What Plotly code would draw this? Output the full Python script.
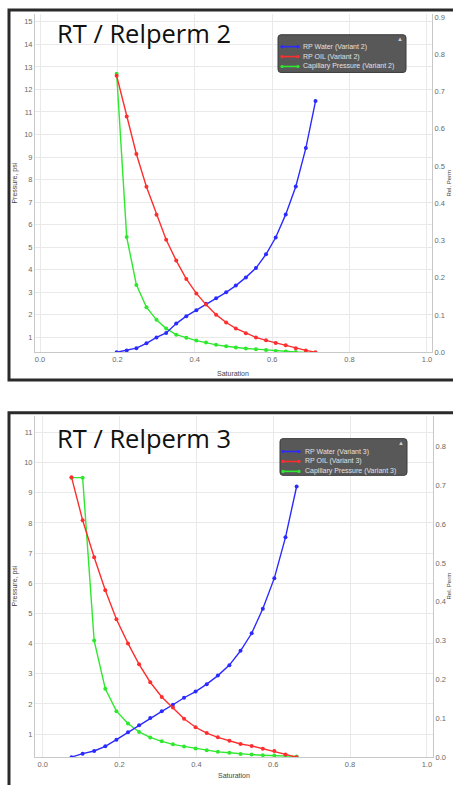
import plotly.graph_objects as go

W, H = 453, 785

# ---------------- data ----------------
sat_v2 = [0.198, 0.224, 0.249, 0.275, 0.301, 0.326, 0.352, 0.378, 0.404, 0.429, 0.455,
          0.481, 0.506, 0.532, 0.558, 0.584, 0.609, 0.635, 0.661, 0.687, 0.712]
water_v2 = [0.0, 0.005, 0.011, 0.024, 0.040, 0.052, 0.077, 0.097, 0.113, 0.130, 0.145,
            0.161, 0.179, 0.201, 0.226, 0.263, 0.308, 0.370, 0.445, 0.548, 0.674]
oil_v2 = [0.742, 0.633, 0.532, 0.444, 0.369, 0.302, 0.246, 0.197, 0.158, 0.128, 0.101,
          0.080, 0.064, 0.051, 0.040, 0.032, 0.025, 0.019, 0.011, 0.005, 0.0]
pc_v2 = [12.7, 5.45, 3.33, 2.34, 1.78, 1.39, 1.12, 0.98, 0.86, 0.77, 0.67,
         0.61, 0.55, 0.51, 0.48, 0.44, 0.40, 0.37, 0.35, 0.33, 0.31]

sat_v3 = [0.075, 0.104, 0.134, 0.163, 0.192, 0.222, 0.251, 0.280, 0.310, 0.339, 0.368,
          0.398, 0.427, 0.456, 0.486, 0.515, 0.544, 0.573, 0.603, 0.632, 0.661]
water_v3 = [0.0, 0.009, 0.016, 0.028, 0.045, 0.064, 0.082, 0.101, 0.118, 0.135, 0.153,
            0.169, 0.188, 0.210, 0.237, 0.274, 0.319, 0.382, 0.461, 0.566, 0.697]
oil_v3 = [0.721, 0.610, 0.515, 0.430, 0.355, 0.293, 0.239, 0.193, 0.155, 0.128, 0.099,
          0.077, 0.062, 0.051, 0.042, 0.034, 0.029, 0.022, 0.016, 0.007, 0.0]
pc_v3 = [9.5, 9.5, 4.1, 2.5, 1.76, 1.35, 1.07, 0.89, 0.76, 0.66, 0.59,
         0.52, 0.46, 0.41, 0.38, 0.34, 0.32, 0.30, 0.29, 0.28, 0.26]

titles = ["RT / Relperm 2", "RT / Relperm 3"]
legend_v2 = ["RP Water (Variant 2)", "RP OIL (Variant 2)", "Capillary Pressure (Variant 2)"]
legend_v3 = ["RP Water (Variant 3)", "RP OIL (Variant 3)", "Capillary Pressure (Variant 3)"]
x_ticks = [0.0, 0.2, 0.4, 0.6, 0.8, 1.0]
x_ticklabels = ["0.0", "0.2", "0.4", "0.6", "0.8", "1.0"]
p_ticks_v2 = list(range(1, 16))
p_ticks_v3 = list(range(1, 12))
kr_ticks_v2 = [0.0, 0.1, 0.2, 0.3, 0.4, 0.5, 0.6, 0.7, 0.8, 0.9]
kr_ticks_v3 = [0.0, 0.1, 0.2, 0.3, 0.4, 0.5, 0.6, 0.7, 0.8]

BLUE, RED, GREEN = "#2b2bff", "#ff2e2e", "#2ee82e"
COLORS = [BLUE, RED, GREEN]


def px(x):
    return x / W


def py(y):
    return 1 - y / H


fig = go.Figure()


def add_series(sat, water, oil, pc, names, xa, ya_left, ya_right):
    fig.add_trace(go.Scatter(x=sat, y=water, name=names[0], mode="lines+markers",
                             line=dict(color=BLUE, width=1.4), marker=dict(size=4, color=BLUE),
                             xaxis=xa, yaxis=ya_right, showlegend=False))
    fig.add_trace(go.Scatter(x=sat, y=oil, name=names[1], mode="lines+markers",
                             line=dict(color=RED, width=1.4), marker=dict(size=4, color=RED),
                             xaxis=xa, yaxis=ya_right, showlegend=False))
    fig.add_trace(go.Scatter(x=sat, y=pc, name=names[2], mode="lines+markers",
                             line=dict(color=GREEN, width=1.4), marker=dict(size=4, color=GREEN),
                             xaxis=xa, yaxis=ya_left, showlegend=False))


add_series(sat_v2, water_v2, oil_v2, pc_v2, legend_v2, "x", "y", "y2")
add_series(sat_v3, water_v3, oil_v3, pc_v3, legend_v3, "x2", "y3", "y4")

TICKFONT = dict(family="Liberation Sans, Arial, sans-serif", size=7.5, color="#6a6a6a")
GRID = "#e9e9e9"
AXL = "#c8c8c8"

xcommon = dict(tickvals=x_ticks, ticktext=x_ticklabels, showgrid=True, gridcolor=GRID,
               showline=True, linecolor=AXL, zeroline=False, tickfont=TICKFONT, ticks="")
ycommon = dict(showgrid=True, gridcolor=GRID, showline=True, linecolor=AXL, zeroline=False,
               tickfont=TICKFONT, ticks="")
rcommon = dict(showgrid=False, showline=True, linecolor=AXL, zeroline=False,
               tickfont=TICKFONT, ticks="", side="right", tickformat=".1f")

fig.update_layout(
    width=W, height=H,
    margin=dict(l=0, r=0, t=0, b=0),
    paper_bgcolor="white", plot_bgcolor="white",
    showlegend=False,
    xaxis=dict(domain=[px(35), px(432)], range=[-0.013, 1.013], anchor="y", **xcommon),
    yaxis=dict(domain=[py(354), py(13)], range=[0.34, 15.35], tickvals=p_ticks_v2,
               anchor="x", **ycommon),
    yaxis2=dict(range=[0, 0.908], tickvals=kr_ticks_v2, overlaying="y", anchor="x", **rcommon),
    xaxis2=dict(domain=[px(35), px(433)], range=[-0.020, 1.016], anchor="y3", **xcommon),
    yaxis3=dict(domain=[py(762), py(418)], range=[0.234, 11.55], tickvals=p_ticks_v3,
                anchor="x2", **ycommon),
    yaxis4=dict(range=[0, 0.879], tickvals=kr_ticks_v3, overlaying="y3", anchor="x2", **rcommon),
)

shapes = []
annotations = []

# panel borders
for (x0, y0, x1, y1) in [(9, 9, 462, 382), (9, 415, 462, 800)]:
    shapes.append(dict(type="rect", xref="paper", yref="paper",
                       x0=px(x0), y0=py(y1), x1=px(x1), y1=py(y0),
                       line=dict(color="#2a2a2a", width=3), layer="below"))

LABFONT = dict(family="Liberation Sans, Arial, sans-serif", size=7, color="#444")
TITLEFONT = dict(family="Open Sans, Lato, sans-serif", size=25.5, color="#111")

panels = [
    dict(title=titles[0], tx=55, ty=32, cy=184, sx=233, sy=375, rx=449,
         legend=legend_v2, lx0=278, ly0=34, lx1=406, ly1=72, rows=[46, 56, 66], lsx=281, lex=299, ltx=301),
    dict(title=titles[1], tx=55, ty=440, cy=590, sx=234, sy=780, rx=449,
         legend=legend_v3, lx0=280, ly0=441, lx1=407, ly1=478, rows=[454, 464, 474], lsx=282, lex=300, ltx=303),
]

for p in panels:
    annotations.append(dict(text=p["title"], xref="paper", yref="paper", x=px(p["tx"]), y=py(p["ty"]),
                            xanchor="left", yanchor="middle", showarrow=False, font=TITLEFONT))
    annotations.append(dict(text="Pressure, psi", xref="paper", yref="paper", x=px(15), y=py(p["cy"]),
                            textangle=-90, showarrow=False, font=LABFONT, xanchor="center", yanchor="middle"))
    annotations.append(dict(text="Saturation", xref="paper", yref="paper", x=px(p["sx"]), y=py(p["sy"]),
                            showarrow=False, font=LABFONT, xanchor="center", yanchor="middle"))
    annotations.append(dict(text="Rel. Perm", xref="paper", yref="paper", x=px(p["rx"]), y=py(p["cy"]),
                            textangle=-90, showarrow=False,
                            font=dict(family="Liberation Sans, Arial, sans-serif", size=6, color="#444"),
                            xanchor="center", yanchor="middle"))
    # legend box
    x0, y0, x1, y1 = p["lx0"], p["ly0"], p["lx1"], p["ly1"]
    r = 3
    path = (f"M {px(x0 + r)},{py(y0)} L {px(x1 - r)},{py(y0)} Q {px(x1)},{py(y0)} {px(x1)},{py(y0 + r)} "
            f"L {px(x1)},{py(y1 - r)} Q {px(x1)},{py(y1)} {px(x1 - r)},{py(y1)} "
            f"L {px(x0 + r)},{py(y1)} Q {px(x0)},{py(y1)} {px(x0)},{py(y1 - r)} "
            f"L {px(x0)},{py(y0 + r)} Q {px(x0)},{py(y0)} {px(x0 + r)},{py(y0)} Z")
    shapes.append(dict(type="path", xref="paper", yref="paper", path=path,
                       fillcolor="#585858", line=dict(color="#3a3a3a", width=1), layer="above"))
    annotations.append(dict(text="▲", xref="paper", yref="paper", x=px(x1 - 6), y=py(y0 + 4.5),
                            showarrow=False, font=dict(size=6, color="#d0d0d0"),
                            xanchor="center", yanchor="middle"))
    for name, color, ry in zip(p["legend"], COLORS, p["rows"]):
        shapes.append(dict(type="line", xref="paper", yref="paper",
                           x0=px(p["lsx"]), x1=px(p["lex"]), y0=py(ry), y1=py(ry),
                           line=dict(color=color, width=1.6), layer="above"))
        for cx in (p["lsx"] + 1, p["lex"] - 1):
            shapes.append(dict(type="circle", xref="paper", yref="paper",
                               x0=px(cx - 1.6), x1=px(cx + 1.6), y0=py(ry + 1.6), y1=py(ry - 1.6),
                               fillcolor=color, line=dict(width=0), layer="above"))
        annotations.append(dict(text=name, xref="paper", yref="paper", x=px(p["ltx"]), y=py(ry),
                                xanchor="left", yanchor="middle", showarrow=False,
                                font=dict(family="Liberation Sans, Arial, sans-serif", size=7, color="#e0e0e0")))

fig.update_layout(shapes=shapes, annotations=annotations)
fig.write_html("out.html")
